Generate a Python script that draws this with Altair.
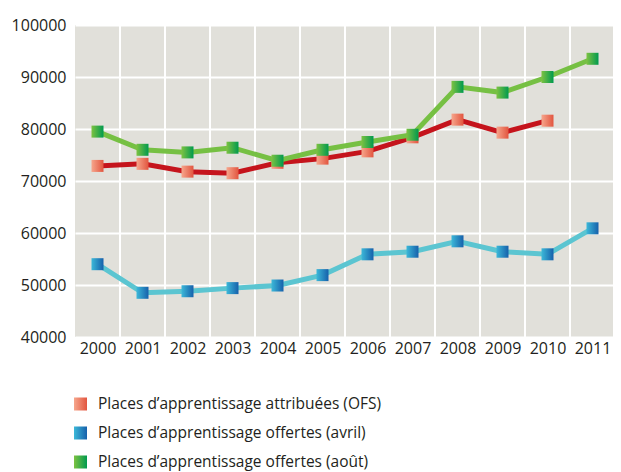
import altair as alt
import pandas as pd

years = [2000, 2001, 2002, 2003, 2004, 2005, 2006, 2007, 2008, 2009, 2010, 2011]
ofs = [72900, 73300, 71800, 71500, 73500, 74300, 75700, 78400, 81800, 79300, 81600, None]
avril = [54000, 48500, 48800, 49400, 49900, 51900, 55900, 56400, 58400, 56400, 55900, 60900]
aout = [79500, 76000, 75500, 76400, 73900, 76000, 77500, 78900, 88100, 87000, 90000, 93500]
names = [
    "Places d\u2019apprentissage attribuées (OFS)",
    "Places d\u2019apprentissage offertes (avril)",
    "Places d\u2019apprentissage offertes (août)",
]
y_ticks = [40000, 50000, 60000, 70000, 80000, 90000, 100000]

line_colors = ["#c5141c", "#5bc5d1", "#76c043"]
grad_stops = [
    ("#f6a68c", "#e2553f"),
    ("#3cb8d8", "#1660ab"),
    ("#7dc242", "#009a4e"),
]

FONT = "Open Sans"
FS = 16
W, H = 538, 312
STEP = 45

xs = alt.Scale(domain=[1999.5, 1999.5 + W / STEP], nice=False, zero=False)
ys = alt.Scale(domain=[40000, 100000], nice=False, zero=False)

grid_df = pd.DataFrame({"g": [y + 0.5 for y in years]})
vgrid = alt.Chart(grid_df).mark_rule(color="white", strokeWidth=2).encode(
    x=alt.X("g:Q", scale=xs, axis=alt.Axis(
        values=years, format="d", grid=False, ticks=False, domain=False,
        labelFontSize=FS, labelFont=FONT, labelColor="#231f20", labelPadding=3,
        title=None, labelFlush=False)),
)

series = [ofs, avril, aout]
layers = [vgrid]
for i in [0, 1, 2]:
    df = pd.DataFrame({"year": years, "v": series[i]}).dropna()
    base = alt.Chart(df).encode(
        x=alt.X("year:Q", scale=xs),
        y=alt.Y("v:Q", scale=ys, axis=alt.Axis(
            values=y_ticks, format="d", grid=True, gridColor="white", gridWidth=2,
            gridOpacity=1, ticks=False, domain=False, labelFontSize=FS,
            labelFont=FONT, labelColor="#231f20", labelPadding=9, title=None)),
    )
    c0, c1 = grad_stops[i]
    grad = alt.LinearGradient(gradient="linear", x1=0, x2=1, y1=0, y2=0,
                              stops=[alt.GradientStop(color=c0, offset=0),
                                     alt.GradientStop(color=c1, offset=1)])
    layers.append(base.mark_line(color=line_colors[i], strokeWidth=5))
    layers.append(base.mark_square(size=144, fill=grad, opacity=1, strokeWidth=0))

leg_y = [379, 408, 437]
for i in range(3):
    ldf = pd.DataFrame({"name": [names[i]]})
    c0, c1 = grad_stops[i]
    grad = alt.LinearGradient(gradient="linear", x1=0, x2=1, y1=0, y2=0,
                              stops=[alt.GradientStop(color=c0, offset=0),
                                     alt.GradientStop(color=c1, offset=1)])
    layers.append(alt.Chart(ldf).mark_square(size=169, fill=grad, opacity=1, strokeWidth=0).encode(
        x=alt.value(5.5), y=alt.value(leg_y[i])))
    layers.append(alt.Chart(ldf).mark_text(align="left", baseline="middle", fontSize=15.5,
                                           font=FONT, color="#231f20").encode(
        x=alt.value(23), y=alt.value(leg_y[i]), text="name:N"))

chart = alt.layer(*layers).properties(
    width=W, height=H,
    padding={"left": 67, "top": 17, "right": 0, "bottom": 135},
    autosize=alt.AutoSizeParams(type="none"),
    background="white",
).configure_view(fill="#e1e0da", stroke=None)

chart.save("out.html", embed_options={"renderer": "svg", "actions": False})
